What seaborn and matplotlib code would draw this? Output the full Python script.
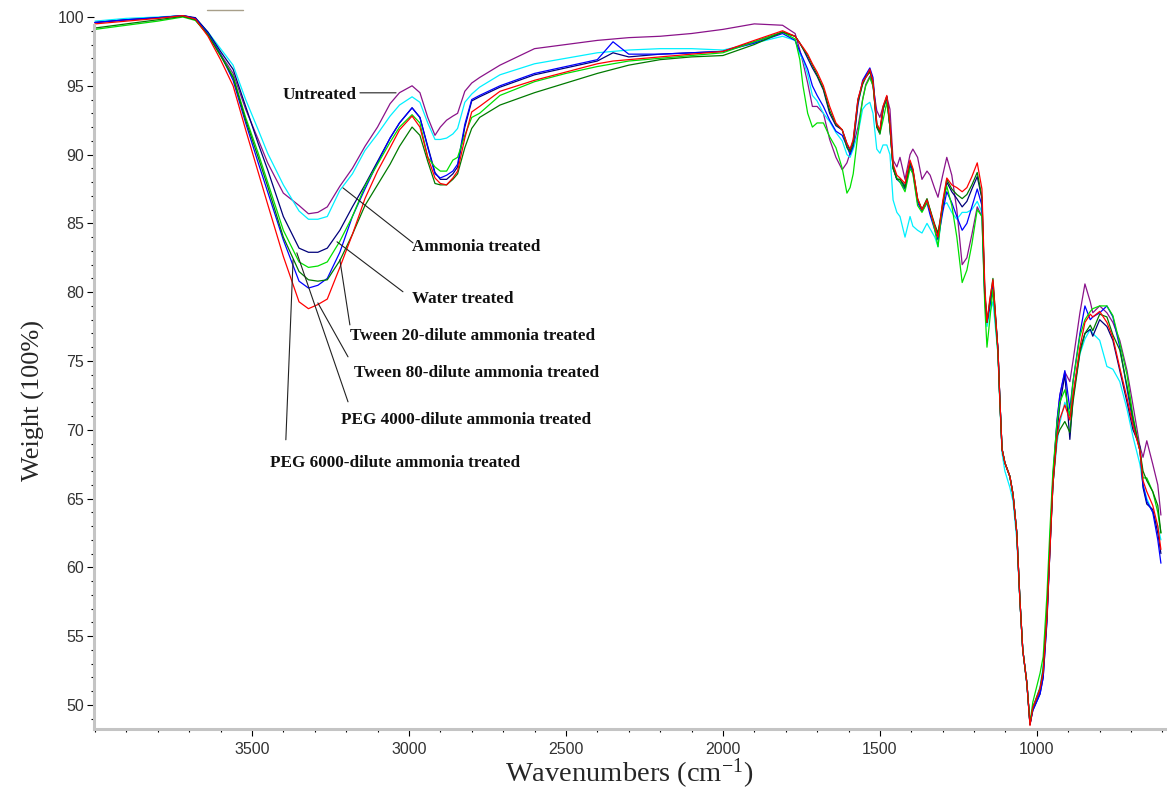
import pandas as pd
import matplotlib
matplotlib.use("Agg")
import matplotlib.pyplot as plt
from matplotlib.lines import Line2D
from matplotlib.ticker import FixedLocator, MultipleLocator
import seaborn as sns

# wavenumbers (cm-1) shared by all spectra, high -> low
WAVENUMBERS = [
    4000, 3900, 3800, 3720, 3680, 3640, 3600, 3560, 3520, 3480,
    3450, 3400, 3350, 3320, 3290, 3260, 3220, 3180, 3140, 3100,
    3060, 3030, 2990, 2965, 2940, 2917, 2900, 2880, 2860, 2845,
    2822, 2800, 2775, 2710, 2600, 2500, 2400, 2350, 2300, 2200,
    2100, 2000, 1900, 1810, 1770, 1755, 1745, 1730, 1715, 1700,
    1680, 1660, 1640, 1620, 1605, 1595, 1585, 1570, 1555, 1545,
    1532, 1522, 1510, 1500, 1490, 1478, 1468, 1458, 1446, 1436,
    1420, 1404, 1395, 1380, 1366, 1350, 1340, 1325, 1315, 1300,
    1287, 1271, 1255, 1238, 1223, 1207, 1190, 1175, 1166, 1159,
    1150, 1140, 1124, 1118, 1111, 1102, 1086, 1076, 1064, 1054,
    1045, 1032, 1022, 1013, 990, 980, 968, 959, 949, 936,
    927, 911, 895, 885, 863, 847, 830, 822, 800, 777,
    758, 736, 713, 694, 672, 662, 650, 631, 615, 605,
]

UNTREATED = [
    99.6, 99.8, 99.95, 100.1, 99.9, 98.8, 97.3, 95.9, 93.3, 91.1,
    89.4, 87.2, 86.3, 85.7, 85.8, 86.2, 87.7, 89.0, 90.6, 92.0,
    93.7, 94.5, 95.0, 94.5, 92.7, 91.4, 92.0, 92.5, 92.8, 93.0,
    94.6, 95.2, 95.6, 96.5, 97.7, 98.0, 98.3, 98.4, 98.5, 98.6,
    98.8, 99.1, 99.5, 99.4, 98.8, 97.6, 96.7, 95.2, 93.5, 93.5,
    93.0, 91.1, 89.8, 88.9, 89.4, 90.1, 90.6, 92.0, 94.0, 95.1,
    95.7, 95.0, 93.2, 92.7, 93.5, 94.2, 93.3, 89.6, 89.1, 89.8,
    88.2, 90.0, 90.4, 89.8, 88.2, 88.8, 88.5, 87.5, 86.9, 88.5,
    89.8, 88.5, 86.0, 82.0, 82.5, 84.2, 86.2, 85.5, 79.5, 77.8,
    79.0, 80.3, 75.8, 72.2, 68.6, 67.6, 66.6, 65.3, 62.5, 57.6,
    54.0, 51.6, 48.6, 49.8, 51.0, 52.5, 56.6, 61.5, 66.4, 70.5,
    72.5, 74.2, 73.5, 75.0, 78.5, 80.6, 79.3, 78.5, 79.0, 78.5,
    77.8, 76.5, 74.3, 71.8, 68.8, 68.0, 69.2, 67.5, 66.0, 63.8,
]

AMMONIA = [
    99.7, 99.9, 100.0, 100.1, 99.9, 98.9, 97.7, 96.5, 94.0, 91.8,
    90.1, 87.8, 85.9, 85.3, 85.3, 85.5, 87.4, 88.6, 90.3, 91.5,
    92.8, 93.6, 94.2, 93.8, 92.3, 91.1, 91.1, 91.2, 91.5, 91.9,
    93.8, 94.4, 94.9, 95.8, 96.6, 97.0, 97.4, 97.5, 97.6, 97.7,
    97.7, 97.6, 98.1, 98.6, 98.3, 97.3, 96.9, 95.8, 94.3, 93.9,
    93.0, 92.4, 91.6, 91.0, 90.0, 89.8, 90.4, 91.5, 93.3, 93.6,
    93.8, 93.0, 90.4, 90.1, 90.7, 90.7, 90.0, 86.7, 85.8, 85.5,
    84.0, 85.5, 84.8, 84.5, 84.3, 85.0, 84.6, 84.0, 83.3, 86.3,
    86.5, 85.8, 85.3, 85.8, 85.8, 86.0, 86.6, 85.8, 79.5, 77.5,
    78.5, 79.3, 75.5, 72.0, 68.3, 67.0, 65.8, 64.8, 62.0, 57.5,
    54.0, 51.5, 48.6, 49.8, 51.3, 52.8, 56.8, 61.8, 66.0, 69.0,
    70.5, 72.0, 71.0, 72.5, 75.5, 76.6, 77.3, 77.0, 76.5, 74.6,
    74.4, 73.5, 71.5, 69.5, 67.5, 66.0, 65.0, 64.0, 63.0, 62.0,
]

WATER = [
    99.6, 99.8, 99.95, 100.1, 99.95, 98.9, 97.5, 96.2, 93.5, 90.8,
    88.9, 85.5, 83.2, 82.9, 82.9, 83.2, 84.5, 86.2, 87.8, 89.5,
    91.2, 92.3, 93.4, 92.7, 90.6, 88.7, 88.2, 88.2, 88.6, 89.1,
    92.0, 93.9, 94.2, 94.9, 95.8, 96.3, 96.8, 97.4, 97.1, 97.3,
    97.4, 97.5, 98.2, 98.9, 98.6, 98.1, 97.7, 97.0, 96.3, 95.7,
    94.7, 93.0, 92.1, 91.8, 90.8, 90.3, 91.0, 94.0, 95.2, 95.7,
    96.1, 95.2, 92.0, 91.5, 93.3, 94.2, 92.0, 89.1, 88.2, 88.2,
    87.7, 89.4, 88.9, 86.7, 86.0, 86.7, 85.8, 84.8, 84.2, 86.2,
    88.0, 87.3, 86.8, 86.2, 86.6, 87.5, 88.4, 86.8, 80.0, 77.8,
    79.2, 80.6, 75.8, 72.2, 68.6, 67.6, 66.6, 65.3, 62.5, 57.6,
    54.0, 51.6, 48.6, 49.6, 50.8, 52.0, 56.2, 61.0, 66.0, 69.8,
    71.8, 74.0, 69.3, 72.3, 75.8, 77.0, 77.3, 76.8, 78.0, 77.5,
    76.5, 74.3, 72.0, 70.0, 68.8, 65.8, 64.6, 64.2, 62.5, 61.0,
]

TWEEN20 = [
    99.2, 99.5, 99.8, 100.05, 99.8, 98.7, 97.2, 95.6, 92.5, 89.8,
    87.7, 84.0, 81.5, 80.9, 80.8, 80.9, 82.3, 84.2, 86.3, 87.8,
    89.3, 90.6, 92.0, 91.4, 89.5, 87.9, 87.8, 87.8, 88.2, 88.6,
    90.5, 91.9, 92.7, 93.6, 94.5, 95.2, 95.9, 96.2, 96.5, 96.9,
    97.1, 97.2, 98.0, 98.9, 98.6, 98.1, 97.7, 97.2, 96.5, 95.8,
    94.8, 93.2, 92.2, 91.8, 90.5, 90.2, 90.8, 93.8, 95.1, 95.6,
    96.0, 95.3, 92.0, 91.6, 93.3, 94.2, 92.0, 89.0, 88.2, 88.2,
    87.6, 89.4, 88.9, 86.8, 86.0, 86.8, 86.0, 84.9, 84.3, 86.4,
    88.2, 87.5, 87.1, 86.8, 87.1, 87.8, 88.7, 86.9, 80.0, 77.8,
    79.3, 81.0, 75.8, 72.2, 68.6, 67.6, 66.6, 65.3, 62.5, 57.6,
    54.0, 51.6, 48.6, 49.8, 51.2, 52.6, 56.5, 61.2, 66.0, 69.5,
    70.0, 70.6, 69.8, 72.0, 75.6, 77.0, 77.6, 77.2, 78.4, 78.2,
    76.9, 75.8, 73.2, 70.8, 68.5, 67.0, 66.3, 65.5, 64.5, 62.5,
]

TWEEN80 = [
    99.5, 99.7, 99.9, 100.1, 99.85, 98.6, 96.9, 95.0, 91.8, 88.7,
    86.4, 82.6, 79.3, 78.8, 79.1, 79.5, 81.8, 84.2, 86.8, 88.8,
    90.5, 91.8, 92.8, 92.0, 89.8, 88.3, 87.9, 87.8, 88.3, 88.8,
    91.2, 93.1, 93.5, 94.6, 95.4, 96.0, 96.6, 96.8, 96.9, 97.1,
    97.3, 97.5, 98.3, 99.0, 98.6, 98.1, 97.8, 97.3, 96.6, 96.0,
    95.0, 93.5, 92.3, 91.8, 90.8, 90.4, 91.1, 94.0, 95.3, 95.6,
    96.2, 95.3, 92.2, 91.8, 93.5, 94.3, 92.2, 89.3, 88.5, 88.3,
    87.9, 89.6, 89.0, 86.8, 86.0, 86.7, 85.9, 84.8, 84.0, 86.6,
    88.3, 87.8, 87.6, 87.3, 87.6, 88.4, 89.4, 87.5, 80.5, 77.8,
    79.5, 80.9, 75.8, 72.2, 68.6, 67.6, 66.6, 65.3, 62.5, 57.6,
    54.0, 51.6, 48.5, 49.8, 51.2, 52.4, 56.4, 61.0, 66.0, 69.5,
    70.8, 71.8, 70.7, 72.5, 76.0, 77.8, 78.4, 78.2, 78.6, 77.8,
    76.7, 74.5, 72.3, 70.3, 68.5, 66.3, 65.5, 64.5, 63.0, 61.3,
]

PEG4000 = [
    99.1, 99.4, 99.7, 100.0, 99.75, 98.7, 97.2, 95.7, 92.7, 90.1,
    88.0, 84.5, 82.2, 81.8, 81.9, 82.2, 83.7, 85.5, 87.7, 89.3,
    90.9, 92.0, 92.9, 92.3, 89.8, 89.1, 88.8, 88.8, 89.6, 89.8,
    91.4, 92.7, 93.0, 94.3, 95.3, 95.9, 96.4, 96.6, 96.8, 97.0,
    97.2, 97.4, 98.2, 98.9, 98.4, 96.9, 95.0, 93.0, 92.0, 92.3,
    92.3, 91.3, 90.5, 89.0, 87.2, 87.6, 88.6, 91.5, 94.0, 95.0,
    95.6, 95.0, 92.3, 91.5, 92.5, 93.8, 92.0, 89.0, 88.3, 88.0,
    87.3, 89.0, 88.6, 86.3, 85.8, 86.5, 86.0, 84.5, 83.3, 86.5,
    87.7, 86.3, 84.0, 80.7, 81.6, 83.5, 86.0, 85.5, 79.0, 76.0,
    78.0, 80.2, 75.5, 72.0, 68.6, 67.6, 66.6, 65.3, 62.5, 57.6,
    54.0, 51.6, 48.7, 50.2, 52.3, 53.5, 58.0, 62.5, 67.0, 70.5,
    72.0, 72.9, 71.0, 73.5, 76.8, 78.0, 78.6, 78.8, 79.0, 79.0,
    78.3, 76.3, 74.0, 71.0, 68.5, 66.5, 66.5, 65.5, 64.0, 62.5,
]

PEG6000 = [
    99.6, 99.8, 99.95, 100.1, 99.9, 98.8, 97.3, 95.4, 92.3, 89.4,
    87.3, 83.8, 80.8, 80.3, 80.5, 81.0, 82.9, 85.5, 87.5, 89.4,
    91.2, 92.3, 93.4, 92.7, 90.5, 88.6, 88.3, 88.5, 88.8, 89.3,
    92.2, 94.0, 94.3, 95.0, 95.9, 96.4, 96.9, 98.2, 97.3, 97.3,
    97.4, 97.5, 98.1, 98.8, 98.3, 97.5, 97.0, 96.2, 95.0, 94.3,
    93.5, 92.5, 91.7, 91.4, 90.6, 90.0, 90.6, 93.6, 95.4, 95.8,
    96.3, 95.6, 92.3, 91.6, 93.3, 94.2, 92.0, 89.0, 88.2, 88.0,
    87.5, 89.2, 88.7, 86.5, 85.9, 86.5, 85.6, 84.5, 83.8, 85.8,
    87.3, 86.5, 85.5, 84.5, 85.0, 86.2, 87.5, 86.3, 79.8, 77.8,
    79.0, 80.5, 75.8, 72.2, 68.6, 67.6, 66.6, 65.3, 62.5, 57.6,
    54.0, 51.6, 48.6, 49.6, 50.8, 52.0, 56.0, 61.0, 66.5, 70.7,
    72.5, 74.3, 71.5, 73.5, 77.0, 79.0, 78.0, 78.2, 78.5, 79.0,
    78.2, 76.0, 73.0, 70.5, 68.5, 66.0, 64.8, 64.0, 62.0, 60.3,
]

# drawing order (last one on top)
SAMPLES = [
    "Untreated", "Ammonia treated", "Water treated",
    "PEG 6000-dilute ammonia treated", "PEG 4000-dilute ammonia treated",
    "Tween 20-dilute ammonia treated", "Tween 80-dilute ammonia treated",
]
COLORS = {
    "Untreated": "#8a138a",
    "Ammonia treated": "#00f0ff",
    "Water treated": "#00007a",
    "PEG 6000-dilute ammonia treated": "#0000ff",
    "PEG 4000-dilute ammonia treated": "#00e000",
    "Tween 20-dilute ammonia treated": "#007a00",
    "Tween 80-dilute ammonia treated": "#ff0000",
}

# label text, text anchor, alignment, pointer start, pointer end (data units)
LABELS = [
    ("Untreated", (3166, 94.34), "right", (3156, 94.49), (3041, 94.49)),
    ("Ammonia treated", (2990, 83.29), "left", (2987, 83.58), (3210, 87.58)),
    ("Water treated", (2990, 79.51), "left", (3019, 80.03), (3229, 83.66)),
    ("Tween 20-dilute ammonia treated", (3188, 76.82), "left", (3188, 77.62), (3220, 82.35)),
    ("Tween 80-dilute ammonia treated", (3175, 74.13), "left", (3194, 75.30), (3290, 79.22)),
    ("PEG 4000-dilute ammonia treated", (3217, 70.72), "left", (3194, 72.03), (3357, 82.86)),
    ("PEG 6000-dilute ammonia treated", (3443, 67.59), "left", (3392, 69.27), (3369, 82.35)),
]


def main():
    sns.set_style("white")
    plt.rcParams["font.family"] = ["Liberation Sans", "DejaVu Sans"]
    plt.rcParams["mathtext.fontset"] = "custom"
    plt.rcParams["mathtext.rm"] = "Liberation Serif"
    plt.rcParams["mathtext.it"] = "Liberation Serif:italic"

    series = {
        "Untreated": UNTREATED,
        "Ammonia treated": AMMONIA,
        "Water treated": WATER,
        "Tween 20-dilute ammonia treated": TWEEN20,
        "Tween 80-dilute ammonia treated": TWEEN80,
        "PEG 4000-dilute ammonia treated": PEG4000,
        "PEG 6000-dilute ammonia treated": PEG6000,
    }
    df = pd.concat(
        [pd.DataFrame({"wavenumber": WAVENUMBERS, "weight": vals, "sample": name})
         for name, vals in series.items()],
        ignore_index=True)

    fig = plt.figure(figsize=(11.72, 7.93), dpi=100)
    ax = fig.add_axes([94 / 1172, 1 - 729 / 793, 1071 / 1172, 723 / 793])

    sns.lineplot(data=df, x="wavenumber", y="weight", hue="sample",
                 hue_order=SAMPLES, palette=COLORS, sort=False, estimator=None,
                 legend=False, linewidth=0.9, ax=ax)

    ax.set_xlim(4003, 592)
    ax.set_ylim(48.25, 100.8)
    ax.xaxis.set_major_locator(FixedLocator([3500, 3000, 2500, 2000, 1500, 1000]))
    ax.xaxis.set_minor_locator(MultipleLocator(100))
    ax.yaxis.set_major_locator(FixedLocator(list(range(50, 101, 5))))
    ax.yaxis.set_minor_locator(MultipleLocator(1))
    ax.tick_params(which="major", direction="out", length=5, width=0.8,
                   color="black", labelsize=11.5, labelcolor="#333333", pad=2)
    ax.tick_params(which="minor", direction="out", length=2.5, width=0.8, color="black")
    ax.tick_params(axis="x", which="major", pad=4)
    ax.tick_params(axis="x", which="both", bottom=True)
    ax.tick_params(axis="y", which="both", left=True)

    for side in ["top", "right"]:
        ax.spines[side].set_visible(False)
    for side in ["left", "bottom"]:
        ax.spines[side].set_color("#c4c4c4")
        ax.spines[side].set_linewidth(2.2)
    ax.spines["left"].set_bounds(48.25, 99.4)

    ax.set_xlabel("Wavenumbers (cm$^{-1}$)", fontsize=20.5,
                  family="Liberation Serif", labelpad=0.5)
    ax.set_ylabel("Weight (100%)", fontsize=19, family="Liberation Serif")
    ax.yaxis.set_label_coords(-0.046, 0.455)

    for text, pos, ha, start, end in LABELS:
        ax.annotate("", xy=end, xytext=start,
                    arrowprops=dict(arrowstyle="-", color="#222222", lw=0.8,
                                    shrinkA=0, shrinkB=0))
        ax.text(pos[0], pos[1], text, ha=ha, va="center", fontsize=12.3,
                fontweight="bold", family="Liberation Serif", color="#111111")

    fig.add_artist(Line2D([207 / 1172, 243 / 1172], [1 - 10 / 793] * 2,
                          color="#a89f8a", lw=1))

    fig.savefig("out.png", dpi=100)


if __name__ == "__main__":
    main()
